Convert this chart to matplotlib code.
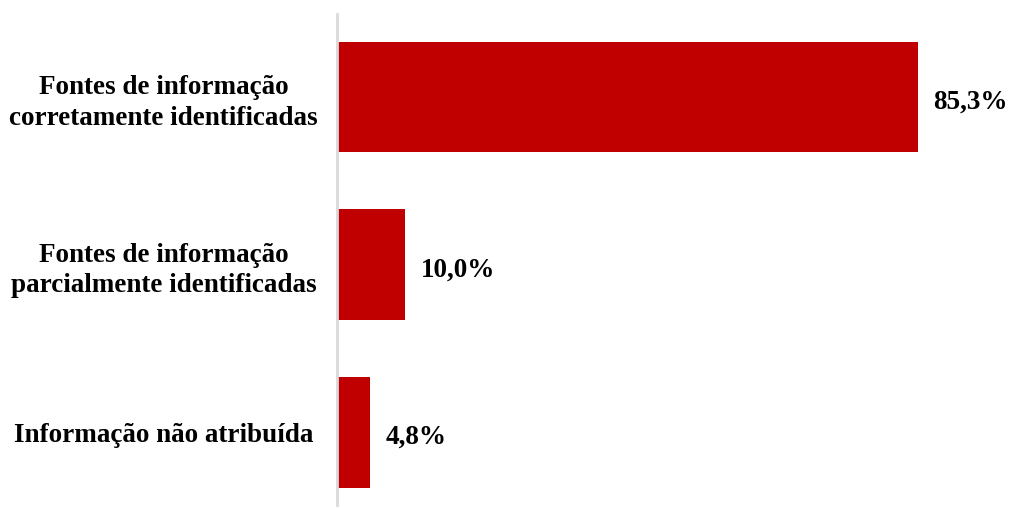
import matplotlib.pyplot as plt

categories = [
    "Fontes de informação\ncorretamente identificadas",
    "Fontes de informação\nparcialmente identificadas",
    "Informação não atribuída",
]
values = [85.3, 10.0, 4.8]
value_labels = ["85,3%", "10,0%", "4,8%"]

plt.rcParams["font.family"] = ["Liberation Serif", "DejaVu Serif"]

fig = plt.figure(figsize=(10.09, 5.08), dpi=100)
ax = fig.add_axes([337 / 1009, 3 / 508, 672 / 1009, 491 / 508])

pos = list(range(len(categories)))
ax.barh(pos, values, height=0.66, color="#C00000")

for p, v, lab in zip(pos, values, value_labels):
    ax.text(v + 2.3, p + 0.03, lab, va="center", ha="left",
            fontsize=19.5, fontweight="bold")

ax.set_xlim(0, 98.7)
ax.set_ylim(2.434, -0.496)
ax.set_yticks(pos)
ax.set_yticklabels(categories, fontsize=19.5, fontweight="bold",
                   ha="center", linespacing=1.3)
ax.tick_params(axis="y", length=0, pad=125)
ax.set_xticks([])

for s in ["top", "right", "bottom"]:
    ax.spines[s].set_visible(False)
ax.spines["left"].set_color("#D9D9D9")
ax.spines["left"].set_linewidth(2)

fig.savefig("out.png", dpi=100)
